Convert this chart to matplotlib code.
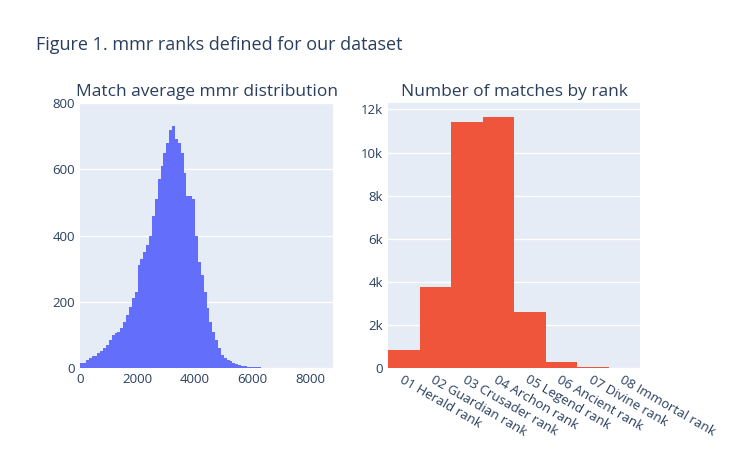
import matplotlib.pyplot as plt
import numpy as np

# histogram counts per 100-mmr bin
mmr_edges = np.arange(0, 7100, 100)
mmr_counts = [15, 15, 25, 30, 35, 35, 45, 50, 60, 70,
              85, 100, 105, 110, 120, 140, 160, 185, 210, 230,
              310, 330, 350, 370, 400, 460, 510, 570, 610, 650,
              680, 720, 730, 690, 680, 650, 590, 520, 520, 510,
              400, 320, 280, 230, 180, 140, 110, 85, 60, 40,
              30, 25, 20, 15, 12, 10, 7, 5, 4, 3,
              3, 2, 2, 1, 1, 1, 1, 0, 1, 0]

ranks = ["01 Herald rank", "02 Guardian rank", "03 Crusader rank", "04 Archon rank",
         "05 Legend rank", "06 Ancient rank", "07 Divine rank", "08 Immortal rank"]
matches = [850, 3750, 11400, 11650, 2600, 300, 50, 10]

BG = "#E5ECF6"
TXT = "#2a3f5f"
plt.rcParams['font.family'] = ['Open Sans', 'DejaVu Sans']

fig = plt.figure(figsize=(7.32, 4.5), dpi=100)
ax1 = fig.add_axes([80/732, 1-368/450, 253/732, 265/450])
ax2 = fig.add_axes([388/732, 1-368/450, 252/732, 265/450])

for ax in (ax1, ax2):
    ax.set_facecolor(BG)
    for s in ax.spines.values():
        s.set_visible(False)
    ax.grid(axis='y', color='white', linewidth=1)
    ax.set_axisbelow(True)
    ax.tick_params(length=0, colors=TXT, labelsize=9.5)

ax1.bar(mmr_edges[:-1], mmr_counts, width=100, align='edge', color="#636efa", linewidth=0)
ax1.set_xlim(0, 8800)
ax1.set_ylim(0, 800)
ax1.set_xticks([0, 2000, 4000, 6000, 8000])
ax1.set_yticks([0, 200, 400, 600, 800])
ax1.set_title("Match average mmr distribution", color=TXT, fontsize=12.5, pad=5)

x = np.arange(len(ranks))
ax2.bar(x, matches, width=1.0, color="#EF553B", linewidth=0)
ax2.set_xlim(-0.5, len(ranks) - 0.5)
ax2.set_ylim(0, 12300)
ax2.set_xticks(x)
ax2.set_xticklabels(ranks, rotation=-30, ha='left', rotation_mode='anchor')
ax2.set_yticks([0, 2000, 4000, 6000, 8000, 10000, 12000])
ax2.set_yticklabels(["0", "2k", "4k", "6k", "8k", "10k", "12k"])
ax2.set_title("Number of matches by rank", color=TXT, fontsize=12.5, pad=5)

fig.text(36/732, 1-45/450, "Figure 1. mmr ranks defined for our dataset", color=TXT, fontsize=13, va='center')

fig.savefig("out.png", dpi=100, facecolor="white")
